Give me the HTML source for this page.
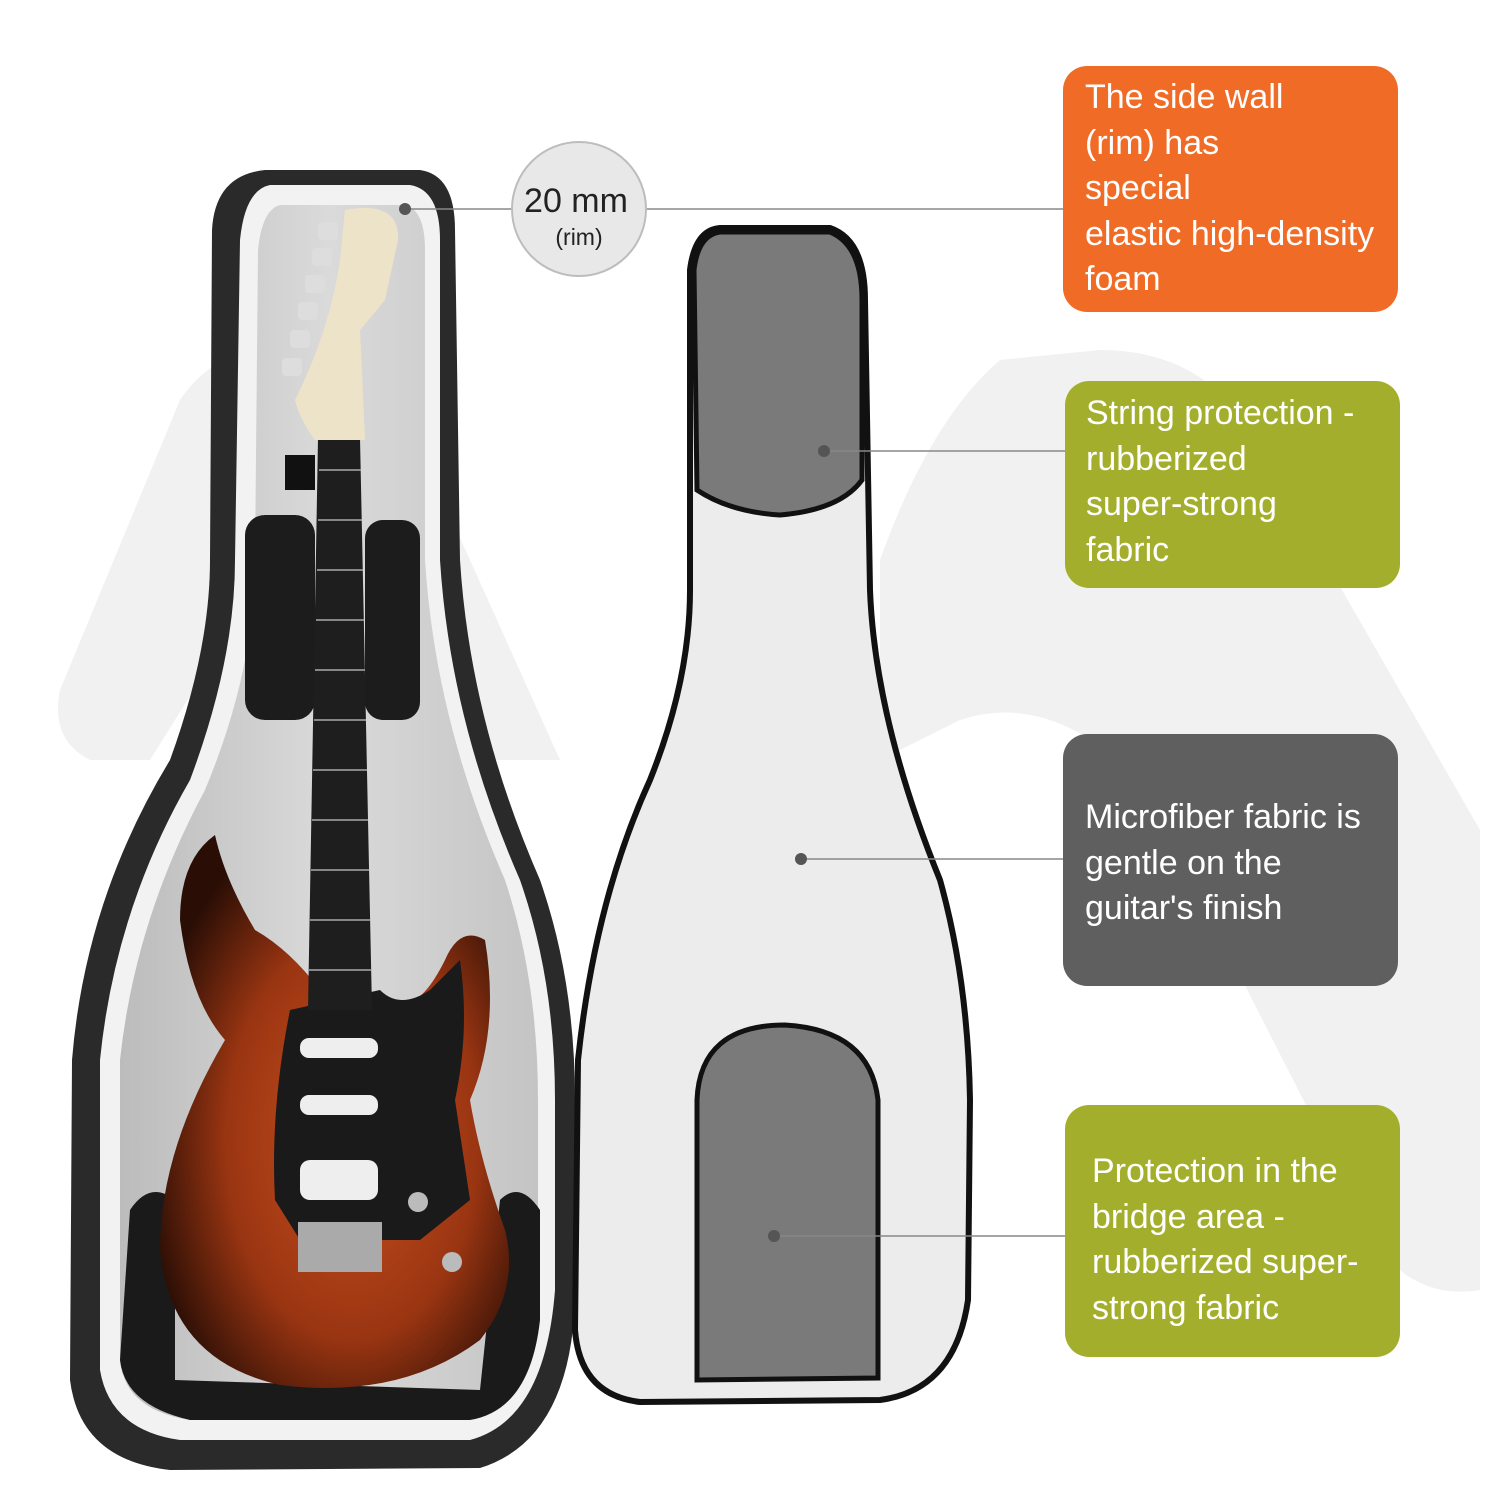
<!DOCTYPE html>
<html><head><meta charset="utf-8"><style>
body{margin:0;background:#fff;}
.b{position:absolute;border-radius:24px;color:#fff;font-family:"Liberation Sans",sans-serif;font-size:34px;line-height:45.5px;}
</style></head><body>
<div style="position:relative;width:1500px;height:1500px;overflow:hidden;background:#fff">
<svg width="1500" height="1500" style="position:absolute;left:0;top:0">
<defs>
<radialGradient id="body" cx="0.55" cy="0.55" r="0.6">
<stop offset="0" stop-color="#c8501e"/><stop offset="0.6" stop-color="#9a3512"/><stop offset="1" stop-color="#2a0e05"/></radialGradient>
<linearGradient id="inner" x1="0" x2="1"><stop offset="0" stop-color="#bcbcbc"/><stop offset="0.5" stop-color="#dadada"/><stop offset="1" stop-color="#c4c4c4"/></linearGradient>
</defs>
<!-- background logo -->
<path d="M60,690 L180,400 Q220,340 300,350 L380,360 L560,760 L420,760 L300,520 L150,760 L90,760 Q50,740 60,690Z" fill="#f1f1f1"/>
<path d="M880,560 Q930,420 1000,360 L1100,350 Q1200,350 1250,430 L1480,830 L1480,1290 Q1420,1300 1380,1250 L1140,780 Q1050,690 960,720 L880,760Z" fill="#f1f1f1"/>
<!-- left case -->
<path d="M265,170 L420,170 Q455,175 455,230 L460,560 Q470,720 540,880 Q575,980 575,1100 L575,1300 Q570,1440 480,1468 L170,1470 Q80,1460 70,1380 L72,1060 Q85,900 170,760 Q210,650 210,560 L212,230 Q215,175 265,170Z" fill="#2a2a2a"/>
<path d="M270,185 L410,185 Q440,190 440,240 L440,560 Q450,720 520,880 Q555,980 555,1100 L555,1290 Q545,1420 470,1440 L180,1440 Q110,1430 100,1370 L100,1060 Q115,910 190,780 Q235,660 235,560 L240,240 Q245,190 270,185Z" fill="#f2f2f2"/>
<path d="M280,205 L405,205 Q425,210 425,250 L425,560 Q435,720 505,880 Q538,980 538,1100 L538,1280 Q528,1400 460,1418 L190,1420 Q125,1410 120,1360 L120,1060 Q135,920 205,790 Q255,670 255,560 L258,250 Q262,210 280,205Z" fill="url(#inner)"/>
<!-- pads -->
<rect x="245" y="515" width="70" height="205" rx="20" fill="#1c1c1c"/>
<rect x="365" y="520" width="55" height="200" rx="18" fill="#1c1c1c"/>
<path d="M130,1210 Q150,1180 175,1200 L175,1380 L480,1390 L500,1200 Q520,1180 540,1210 L540,1320 Q530,1410 470,1420 L190,1420 Q125,1405 120,1360Z" fill="#1a1a1a"/>
<!-- guitar body -->
<path d="M215,835 Q180,860 180,920 Q190,1000 225,1040 Q160,1150 160,1250 Q170,1360 280,1385 Q400,1400 480,1340 Q520,1290 505,1230 Q480,1160 470,1100 Q500,1030 485,940 Q460,925 445,960 Q420,1010 400,1000 L320,990 Q290,950 255,930 Q225,880 215,835Z" fill="url(#body)"/>
<path d="M290,1010 L380,990 Q400,1010 430,990 L460,960 Q470,1030 455,1100 L470,1200 L420,1240 L300,1240 L275,1200 Q270,1110 290,1010Z" fill="#1a1a1a"/>
<rect x="300" y="1038" width="78" height="20" rx="9" fill="#eee"/>
<rect x="300" y="1095" width="78" height="20" rx="9" fill="#eee"/>
<rect x="300" y="1160" width="78" height="40" rx="10" fill="#eee"/>
<rect x="298" y="1222" width="84" height="50" fill="#aaa"/>
<circle cx="418" cy="1202" r="10" fill="#bbb"/><circle cx="452" cy="1262" r="10" fill="#bbb"/>
<!-- neck -->
<path d="M318,438 L360,438 L372,1010 L308,1010Z" fill="#1e1e1e"/>
<g stroke="#aaa" stroke-width="1.5">
<line x1="319" y1="470" x2="361" y2="470"/><line x1="318" y1="520" x2="362" y2="520"/><line x1="317" y1="570" x2="363" y2="570"/><line x1="316" y1="620" x2="364" y2="620"/><line x1="315" y1="670" x2="365" y2="670"/><line x1="314" y1="720" x2="366" y2="720"/><line x1="313" y1="770" x2="367" y2="770"/><line x1="312" y1="820" x2="368" y2="820"/><line x1="311" y1="870" x2="369" y2="870"/><line x1="310" y1="920" x2="370" y2="920"/><line x1="309" y1="970" x2="371" y2="970"/></g>
<path d="M345,210 Q400,200 398,240 L385,300 L360,330 L365,440 L315,440 Q300,420 295,400 Q330,330 340,260Z" fill="#ede3c8"/>
<g fill="#ddd"><rect x="318" y="222" width="20" height="18" rx="4"/><rect x="312" y="248" width="20" height="18" rx="4"/><rect x="305" y="275" width="20" height="18" rx="4"/><rect x="298" y="302" width="20" height="18" rx="4"/><rect x="290" y="330" width="20" height="18" rx="4"/><rect x="282" y="358" width="20" height="18" rx="4"/></g>
<rect x="285" y="455" width="30" height="35" fill="#111"/>
<!-- right lid -->
<path d="M720,228 L830,228 Q865,240 865,300 L870,590 Q875,720 940,880 Q968,980 970,1100 L968,1300 Q955,1390 880,1400 L640,1402 Q580,1395 575,1330 L578,1060 Q595,900 650,780 Q690,680 690,590 L690,270 Q695,230 720,228Z" fill="#ececec" stroke="#111" stroke-width="6"/>
<path d="M720,232 L830,232 Q862,245 862,300 L862,480 Q840,510 780,515 Q730,512 697,490 L694,270 Q698,235 720,232Z" fill="#7a7a7a" stroke="#111" stroke-width="5"/>
<path d="M697,1100 Q700,1025 785,1025 Q870,1030 878,1100 L878,1378 L697,1380Z" fill="#7a7a7a" stroke="#111" stroke-width="5"/>
<!-- connectors -->
<g stroke="#888" stroke-width="1.5">
<line x1="405" y1="209" x2="512" y2="209"/><line x1="647" y1="209" x2="1063" y2="209"/>
<line x1="824" y1="451" x2="1065" y2="451"/><line x1="801" y1="859" x2="1063" y2="859"/><line x1="774" y1="1236" x2="1065" y2="1236"/></g>
<g fill="#555"><circle cx="405" cy="209" r="6"/><circle cx="824" cy="451" r="6"/><circle cx="801" cy="859" r="6"/><circle cx="774" cy="1236" r="6"/></g>
<circle cx="579" cy="209" r="67" fill="#e8e8e8" stroke="#bdbdbd" stroke-width="2"/>
<text x="576" y="212" font-family="Liberation Sans,sans-serif" font-size="34" text-anchor="middle" fill="#222">20 mm</text>
<text x="579" y="245" font-family="Liberation Sans,sans-serif" font-size="23" text-anchor="middle" fill="#222">(rim)</text>
</svg>
<div class="b" style="left:1063px;top:66px;width:335px;height:246px;background:#F06C26"><div style="padding:9px 0 0 22px">The side wall<br>(rim) has<br>special<br>elastic high-density<br>foam</div></div>
<div class="b" style="left:1065px;top:381px;width:335px;height:207px;background:#A3AF2C"><div style="padding:10px 0 0 21px">String protection -<br>rubberized<br>super-strong<br>fabric</div></div>
<div class="b" style="left:1063px;top:734px;width:335px;height:252px;background:#5F5F5F"><div style="padding:61px 0 0 22px">Microfiber fabric is<br>gentle on the<br>guitar's finish</div></div>
<div class="b" style="left:1065px;top:1105px;width:335px;height:252px;background:#A3AF2C"><div style="padding:44px 0 0 27px">Protection in the<br>bridge area -<br>rubberized super-<br>strong fabric</div></div>
</div>
</body></html>
